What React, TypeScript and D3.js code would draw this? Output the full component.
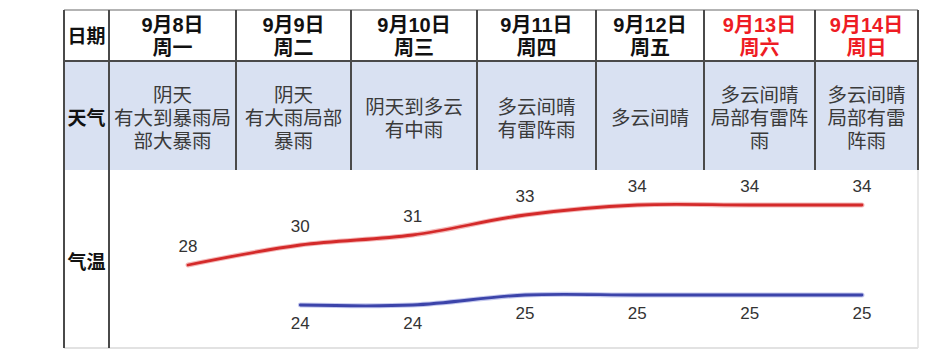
import React from 'react'
import * as d3 from 'd3'

// dates / weekdays shown in the header row
const dates = ['9月8日', '9月9日', '9月10日', '9月11日', '9月12日', '9月13日', '9月14日']
const weekdays = ['周一', '周二', '周三', '周四', '周五', '周六', '周日']
const weekend = [false, false, false, false, false, true, true]

// weather text, already broken into the lines of each cell
const weather = [
  ['阴天', '有大到暴雨局', '部大暴雨'],
  ['阴天', '有大雨局部', '暴雨'],
  ['阴天到多云', '有中雨'],
  ['多云间晴', '有雷阵雨'],
  ['多云间晴'],
  ['多云间晴', '局部有雷阵', '雨'],
  ['多云间晴', '局部有雷', '阵雨'],
]

// temperatures (no low given for the first day)
const highs = [28, 30, 31, 33, 34, 34, 34]
const lows: (number | null)[] = [null, 24, 24, 25, 25, 25, 25]

const W = 952
const H = 363
// table geometry
const left = 64
const labelW = 45
const colW = [127, 115, 126, 119, 108, 111, 103]
const top = 10
const headerBottom = 61
const weatherBottom = 170
const bottom = 348
const right = left + labelW + d3.sum(colW)
const lineGap = 23

// latin font first keeps the line boxes compact, CJK glyphs fall back to Noto
const font = '"Liberation Sans", "Noto Sans CJK SC", sans-serif'

const App = () => {
  const colX: number[] = []
  let acc = left + labelW
  colW.forEach(w => { colX.push(acc); acc += w })

  const x = d3.scalePoint<string>().domain(dates).range([188, 862])
  const y = d3.scaleLinear().domain([20, 36]).range([345, 185])

  const line = d3.line<number | null>()
    .defined(d => d != null)
    .x((_, i) => x(dates[i])!)
    .y(d => y(d as number))
    .curve(d3.curveCatmullRom.alpha(0.5))

  const highPath = line(highs) || ''
  const lowPath = line(lows) || ''

  const dark = '#4a4a4a'

  return (
    <svg width={W} height={H} style={{ position: 'absolute', left: 0, top: 0, background: '#fff' }}
      fontFamily={font}>
      {/* weather row background */}
      <rect x={left} y={headerBottom} width={right - left} height={weatherBottom - headerBottom} fill="#d9e1f2" />

      {/* chart area frame */}
      <line x1={left} x2={right} y1={bottom} y2={bottom} stroke="#d8d8d8" strokeWidth={1.5} />
      <line x1={right} x2={right} y1={weatherBottom} y2={bottom} stroke="#e0e0e0" strokeWidth={1.5} />

      {/* table grid */}
      <line x1={left} x2={right} y1={top} y2={top} stroke="#9a9a9a" strokeWidth={1.5} />
      <line x1={left} x2={right} y1={headerBottom} y2={headerBottom} stroke={dark} strokeWidth={2} />
      <line x1={left} x2={left} y1={top} y2={bottom} stroke={dark} strokeWidth={2} />
      <line x1={left + labelW} x2={left + labelW} y1={top} y2={bottom} stroke={dark} strokeWidth={2} />
      {colX.slice(1).map((cx, i) => (
        <line key={i} x1={cx} x2={cx} y1={top} y2={weatherBottom} stroke={dark} strokeWidth={2} />
      ))}
      <line x1={right} x2={right} y1={top} y2={weatherBottom} stroke={dark} strokeWidth={2} />

      {/* row labels */}
      <g fontWeight="bold" fontSize={19} fill="#111" textAnchor="middle" dominantBaseline="central">
        <text x={left + labelW / 2} y={36}>日期</text>
        <text x={left + labelW / 2} y={118}>天气</text>
        <text x={left + labelW / 2} y={262}>气温</text>
      </g>

      {/* header cells: one text per cell, two lines */}
      <g fontWeight="bold" fontSize={20} textAnchor="middle" dominantBaseline="central">
        {dates.map((d, i) => {
          const cx = colX[i] + colW[i] / 2
          return (
            <text key={d} fill={weekend[i] ? '#ee1c24' : '#111'} x={cx} y={24.5}>
              <tspan x={cx} y={24.5}>{d}</tspan>
              <tspan x={cx} y={24.5 + lineGap}>{weekdays[i]}</tspan>
            </text>
          )
        })}
      </g>

      {/* weather cells */}
      <g fontSize={19.5} fill="#3a3a3a" textAnchor="middle" dominantBaseline="central">
        {weather.map((lines, i) => {
          const cx = colX[i] + colW[i] / 2
          const y0 = 118 - (lines.length - 1) / 2 * lineGap
          return (
            <text key={i} x={cx} y={y0}>
              {lines.map((t, j) => (
                <tspan key={j} x={cx} y={y0 + j * lineGap}>{t}</tspan>
              ))}
            </text>
          )
        })}
      </g>

      {/* temperature lines */}
      <path d={highPath} fill="none" stroke="#f4b8b8" strokeWidth={5} strokeLinecap="round" />
      <path d={highPath} fill="none" stroke="#d42a2a" strokeWidth={2.8} strokeLinecap="round" />
      <path d={lowPath} fill="none" stroke="#c4c8ee" strokeWidth={5} strokeLinecap="round" />
      <path d={lowPath} fill="none" stroke="#3c44aa" strokeWidth={2.8} strokeLinecap="round" />

      <g fontSize={17} fill="#333" textAnchor="middle" dominantBaseline="central">
        {highs.map((v, i) => (
          <text key={'h' + i} x={x(dates[i])} y={y(v) - 18.5}>{v}</text>
        ))}
        {lows.map((v, i) => v == null ? null : (
          <text key={'l' + i} x={x(dates[i])} y={y(v) + 18}>{v}</text>
        ))}
      </g>
    </svg>
  )
}

export default App
